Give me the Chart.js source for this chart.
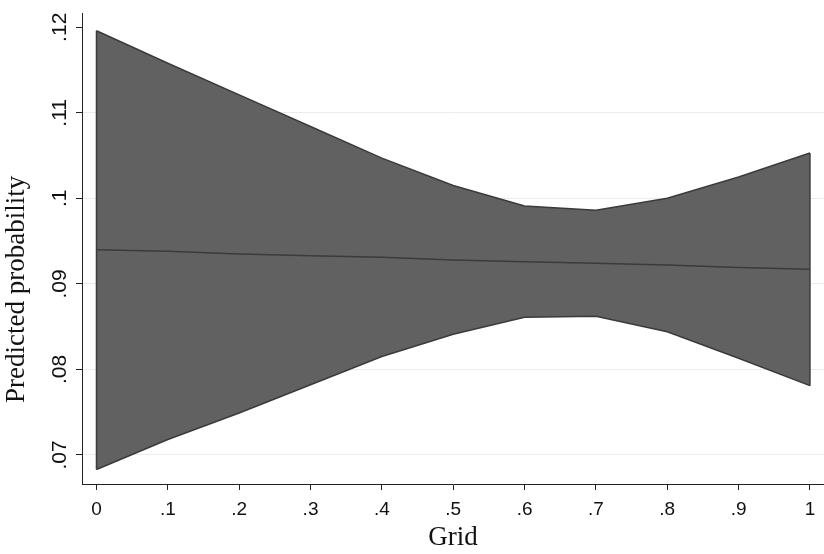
<!DOCTYPE html>
<html>
<head>
<meta charset="utf-8">
<script src="https://cdn.jsdelivr.net/npm/chart.js@4/dist/chart.umd.min.js"></script>
<style>
  html, body { margin: 0; padding: 0; background: #fff; overflow: hidden; }
  #wrap { width: 824px; height: 554px; }
</style>
</head>
<body>
<div id="wrap"><canvas id="grafico" width="824" height="554"></canvas></div>
<script>
// values
const gridValues = [0, .1, .2, .3, .4, .5, .6, .7, .8, .9, 1];
const upperBound = [.1196, .1158, .1121, .1084, .1047, .1015, .0991, .0986, .1000, .1025, .1053];
const lowerBound = [.0683, .0718, .0749, .0782, .0815, .0841, .0861, .0862, .0844, .0813, .0781];
const predicted  = [.0940, .0938, .0935, .0933, .0931, .0928, .0926, .0924, .0922, .0919, .0917];

const xTicks = [0, .1, .2, .3, .4, .5, .6, .7, .8, .9, 1];
const xTickLabels = ['0', '.1', '.2', '.3', '.4', '.5', '.6', '.7', '.8', '.9', '1'];
const yTicks = [.07, .08, .09, .1, .11, .12];
const yTickLabels = ['.07', '.08', '.09', '.1', '.11', '.12'];

const bandFill = '#616161';
const edgeColor = '#3b3b3b';
const axisColor = '#222';

function points(ys) {
  return gridValues.map((x, i) => ({ x: x, y: ys[i] }));
}

// closes the band at both ends, like the outline of the shaded area
const bandEdges = {
  id: 'bandEdges',
  afterDatasetsDraw(chart) {
    const up = chart.getDatasetMeta(0).data;
    const lo = chart.getDatasetMeta(1).data;
    const ctx = chart.ctx;
    ctx.save();
    ctx.strokeStyle = edgeColor;
    ctx.lineWidth = 1.5;
    [0, up.length - 1].forEach((i) => {
      ctx.beginPath();
      ctx.moveTo(up[i].x, up[i].y);
      ctx.lineTo(lo[i].x, lo[i].y);
      ctx.stroke();
    });
    ctx.restore();
  }
};

const graph = document.getElementById('grafico');
const myChart = new Chart(graph, {
  type: 'line',
  data: {
    datasets: [
      {
        label: 'upper',
        data: points(upperBound),
        borderColor: edgeColor,
        borderWidth: 1.5,
        backgroundColor: bandFill,
        fill: '+1',
        pointRadius: 0,
        tension: 0
      },
      {
        label: 'lower',
        data: points(lowerBound),
        borderColor: edgeColor,
        borderWidth: 1.5,
        fill: false,
        pointRadius: 0,
        tension: 0
      },
      {
        label: 'predicted',
        data: points(predicted),
        borderColor: edgeColor,
        borderWidth: 1.5,
        fill: false,
        pointRadius: 0,
        tension: 0
      }
    ]
  },
  options: {
    responsive: false,
    animation: false,
    devicePixelRatio: 1,
    layout: { padding: { top: 7, right: 0, bottom: 0, left: 0 } },
    plugins: {
      legend: { display: false },
      tooltip: { enabled: false },
      filler: { drawTime: 'beforeDatasetsDraw' }
    },
    scales: {
      x: {
        type: 'linear',
        position: 'bottom',
        min: -0.0203,
        max: 1.0197,
        afterBuildTicks: (scale) => { scale.ticks = xTicks.map((v) => ({ value: v })); },
        afterFit: (scale) => { scale.height = 70; },
        ticks: {
          autoSkip: false,
          maxRotation: 0,
          padding: 8,
          color: '#111',
          font: { family: 'Liberation Sans', size: 19 },
          callback: (v, i) => xTickLabels[i]
        },
        grid: {
          drawOnChartArea: false,
          drawTicks: true,
          tickLength: 6,
          tickColor: axisColor
        },
        border: { display: true, color: axisColor, width: 1 },
        title: {
          display: true,
          text: 'Grid',
          color: '#111',
          font: { family: 'Liberation Serif', size: 27 },
          padding: { top: 0, bottom: 0 }
        }
      },
      y: {
        type: 'linear',
        position: 'left',
        min: .0666,
        max: .1216,
        afterBuildTicks: (scale) => { scale.ticks = yTicks.map((v) => ({ value: v })); },
        afterFit: (scale) => { scale.width = 82; },
        ticks: {
          autoSkip: false,
          minRotation: 90,
          maxRotation: 90,
          crossAlign: 'center',
          padding: 1,
          color: '#111',
          font: { family: 'Liberation Sans', size: 21 },
          callback: (v, i) => yTickLabels[i]
        },
        grid: {
          // no grid line at the top tick
          color: (c) => (c.index === yTicks.length - 1 ? 'rgba(0,0,0,0)' : '#ebebeb'),
          lineWidth: 1,
          drawTicks: true,
          tickLength: 6,
          tickColor: axisColor
        },
        border: { display: true, color: axisColor, width: 1 },
        title: {
          display: true,
          // trailing spaces push the title down a little, as in the picture
          text: 'Predicted probability            ',
          color: '#111',
          font: { family: 'Liberation Serif', size: 27 },
          padding: { top: 1, bottom: 0 }
        }
      }
    }
  },
  plugins: [bandEdges]
});
</script>
</body>
</html>
